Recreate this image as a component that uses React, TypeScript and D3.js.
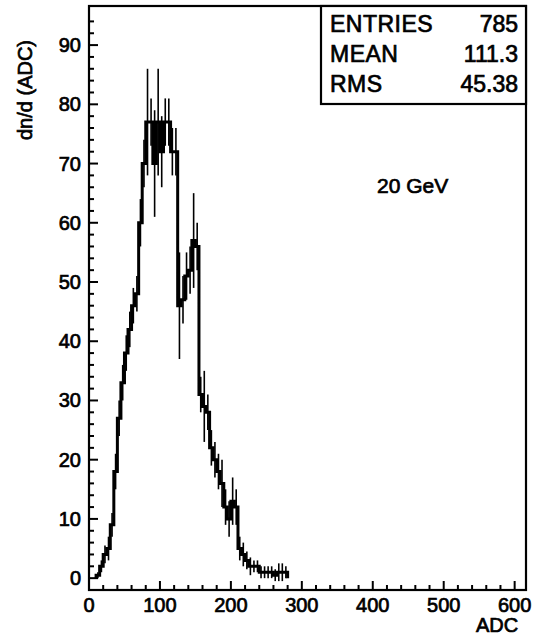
import React from "react";
import * as d3 from "d3";

// Histogram bins (lower edge in ADC, width 5)
const binLow = [10, 15, 20, 25, 30, 35, 40, 45, 50, 55, 60, 65, 70, 75, 80, 85, 90, 95, 100, 105, 110, 115, 120, 125, 130, 135, 140, 145, 150, 155, 160, 165, 170, 175, 180, 185, 190, 195, 200, 205, 210, 215, 220, 225, 230, 235, 240, 245, 250, 255, 260, 265, 270, 275];
const binCounts = [0.5, 2, 4, 5, 9, 18, 27, 33, 38, 42, 46, 48, 60, 70, 77, 77, 70, 77, 72, 77, 77, 72, 72, 46, 47, 51, 52, 57, 56, 31, 29, 28, 22, 20, 18, 16, 12, 10, 13, 12, 5, 4, 3, 2, 2, 2, 1, 1, 1, 1, 0.5, 1, 1, 1];
const binErrors = [0.5, 1, 1.5, 2, 2, 3, 3, 3, 3, 3, 3, 3, 4, 4, 9, 4, 9, 9, 6, 4, 4, 4, 4, 9, 4, 4, 4, 8, 4, 3, 6, 3, 3, 3, 3, 4, 3, 3, 4, 3, 2, 2, 1.5, 1.5, 1, 1, 1, 1, 1, 1, 1, 1.5, 1.5, 1];
const binWidth = 5;

const xTicks = [0, 100, 200, 300, 400, 500, 600];
const yTicks = [0, 10, 20, 30, 40, 50, 60, 70, 80, 90];
const statsLabels = ["ENTRIES", "MEAN", "RMS"];
const statsValues = ["785", "111.3", "45.38"];

const W = 547;
const H = 642;
const frame = { left: 89, right: 526, top: 6, bottom: 590 };
const FONT = "'Liberation Sans', Arial, Helvetica, sans-serif";

export default function App() {
  const x = d3.scaleLinear().domain([0, 616]).range([frame.left, frame.right]);
  const y = d3.scaleLinear().domain([-2, 96.6]).range([frame.bottom, frame.top]);

  const pts: [number, number][] = [[binLow[0], 0]];
  binLow.forEach((b, i) => pts.push([b, binCounts[i]]));
  const lastEdge = binLow[binLow.length - 1] + binWidth;
  pts.push([lastEdge, binCounts[binCounts.length - 1]]);
  pts.push([lastEdge, 0]);
  const line = d3
    .line<[number, number]>()
    .x((d) => x(d[0]))
    .y((d) => y(d[1]))
    .curve(d3.curveStepAfter);

  const yMinor = d3.range(0, 96, 2);
  const xMinor = d3.range(0, 616, 20);
  const sw = 0.7;

  return (
    <svg
      width={W}
      height={H}
      style={{ position: "absolute", left: 0, top: 0, background: "#fff" }}
      fontFamily={FONT}
    >
      <rect x={0} y={0} width={W} height={H} fill="#fff" />
      {/* frame */}
      <rect
        x={frame.left}
        y={frame.top}
        width={frame.right - frame.left}
        height={frame.bottom - frame.top}
        fill="none"
        stroke="#000"
        strokeWidth={2.2}
      />
      {/* y ticks */}
      {yMinor.map((v) => (
        <line
          key={"ym" + v}
          x1={frame.left}
          x2={frame.left + (v % 10 === 0 ? 9 : 5)}
          y1={y(v)}
          y2={y(v)}
          stroke="#000"
          strokeWidth={2}
        />
      ))}
      {yTicks.map((v) => (
        <text
          key={"yt" + v}
          x={frame.left - 8}
          y={y(v)}
          textAnchor="end"
          dominantBaseline="central"
          fontSize={20}
          stroke="#000"
          strokeWidth={sw}
        >
          {v}
        </text>
      ))}
      {/* x ticks */}
      {xMinor.map((v) => (
        <line
          key={"xm" + v}
          x1={x(v)}
          x2={x(v)}
          y1={frame.bottom}
          y2={frame.bottom - (v % 100 === 0 ? 9 : 5)}
          stroke="#000"
          strokeWidth={2}
        />
      ))}
      {xTicks.map((v) => (
        <text
          key={"xt" + v}
          x={x(v)}
          y={frame.bottom + 22}
          textAnchor="middle"
          fontSize={20}
          stroke="#000"
          strokeWidth={sw}
        >
          {v}
        </text>
      ))}
      {/* error bars */}
      {binLow.map((b, i) => (
        <line
          key={"e" + i}
          x1={x(b + binWidth / 2)}
          x2={x(b + binWidth / 2)}
          y1={y(binCounts[i] - binErrors[i])}
          y2={y(binCounts[i] + binErrors[i])}
          stroke="#000"
          strokeWidth={1.6}
        />
      ))}
      {/* histogram */}
      <path d={line(pts) ?? ""} fill="none" stroke="#000" strokeWidth={3} />
      {/* stats box */}
      <rect x={321} y={frame.top} width={frame.right - 321} height={98} fill="#fff" stroke="#000" strokeWidth={2.2} />
      {statsLabels.map((s, i) => (
        <g key={s}>
          <text x={330} y={32 + i * 30} fontSize={23} letterSpacing={0.5} stroke="#000" strokeWidth={sw}>
            {s}
          </text>
          <text x={frame.right - 8} y={32 + i * 30} fontSize={23} textAnchor="end" stroke="#000" strokeWidth={sw}>
            {statsValues[i]}
          </text>
        </g>
      ))}
      <text x={377} y={193} fontSize={21} stroke="#000" strokeWidth={sw}>
        20 GeV
      </text>
      <text
        transform={`translate(32, ${90}) rotate(-90)`}
        textAnchor="middle"
        fontSize={20}
        stroke="#000"
        strokeWidth={sw}
      >
        dn/d (ADC)
      </text>
      <text x={497} y={632} textAnchor="middle" fontSize={20} stroke="#000" strokeWidth={sw}>
        ADC
      </text>
    </svg>
  );
}
